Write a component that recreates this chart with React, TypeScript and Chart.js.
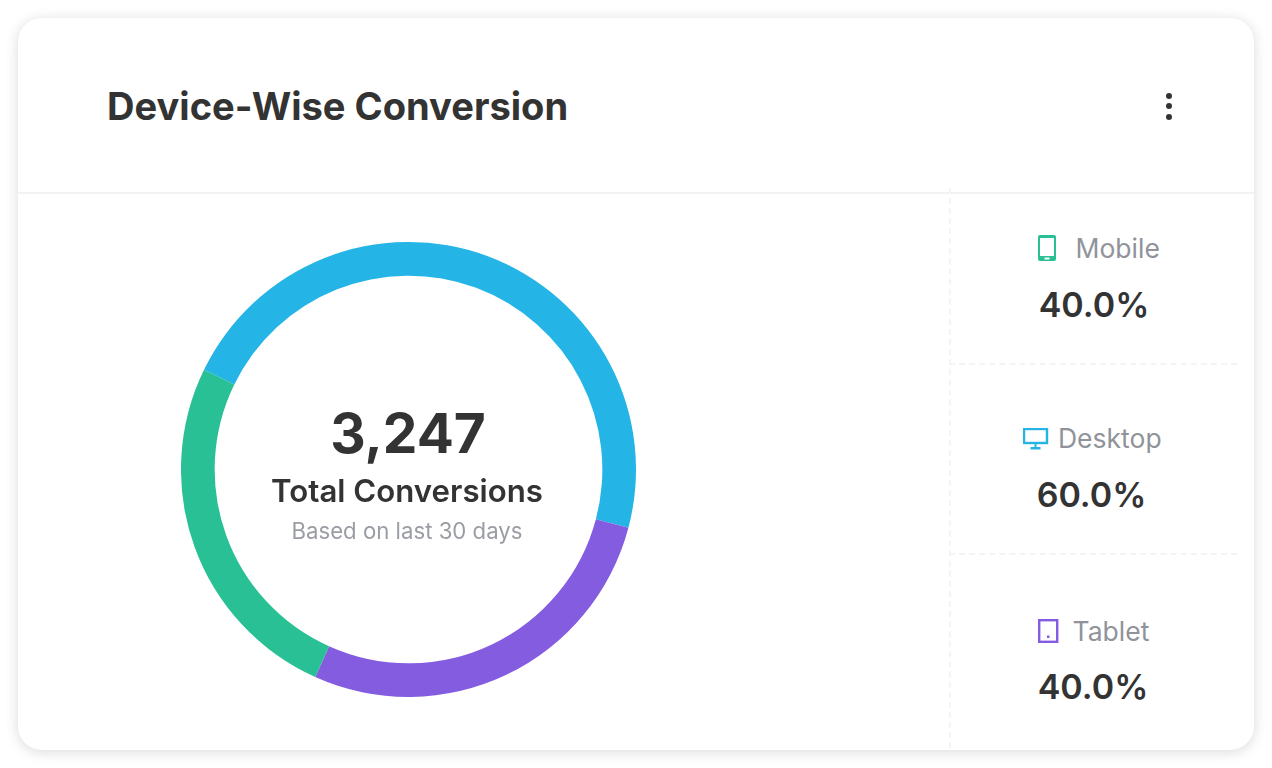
import React, { useEffect, useRef } from "react";
import { Chart, registerables } from "chart.js";

Chart.register(...registerables);

const categories = ["Desktop", "Tablet", "Mobile"];
const sliceValues = [46.9, 27.6, 25.5];
const sliceColors = ["#24B5E6", "#845CE0", "#28C094"];
const legendLabels = ["Mobile", "Desktop", "Tablet"];
const legendValues = ["40.0%", "60.0%", "40.0%"];
const legendColors = ["#28C094", "#24B5E6", "#845CE0"];

const FONT = "Inter, 'Noto Sans', sans-serif";

function Icon({ name, color }: { name: string; color: string }) {
  if (name === "Mobile") {
    return (
      <svg width="20" height="28" viewBox="0 0 20 28" style={{ position: "absolute", left: 0, top: 0 }}>
        <path fillRule="evenodd" fill={color} d="M3 1h14a2 2 0 0 1 2 2v22a2 2 0 0 1-2 2H3a2 2 0 0 1-2-2V3a2 2 0 0 1 2-2zM3 4v18h14V4zM7.500 23.500v2h5v-2z" />
      </svg>
    );
  }
  if (name === "Desktop") {
    return (
      <svg width="26" height="22" viewBox="0 0 26 22" style={{ position: "absolute", left: 0, top: 0 }}>
        <rect x="1" y="1" width="23" height="14" fill="none" stroke={color} strokeWidth="2.400" />
        <rect x="11.500" y="15" width="2" height="4" fill={color} />
        <rect x="7.500" y="19" width="10" height="2.500" fill={color} />
      </svg>
    );
  }
  return (
    <svg width="21" height="24" viewBox="0 0 21 24" style={{ position: "absolute", left: 0, top: 0 }}>
      <rect x="1.200" y="1.200" width="18" height="21.600" fill="none" stroke={color} strokeWidth="2.400" />
      <rect x="9" y="16.500" width="2.500" height="2.500" fill={color} />
    </svg>
  );
}

const legendLayout = [
  { icon: [1037, 234], label: 1075.500, labelCenter: 247.500, value: 1094, valueCenter: 304.500 },
  { icon: [1023, 428], label: 1058, labelCenter: 437.500, value: 1091.500, valueCenter: 495 },
  { icon: [1038, 619], label: 1072.500, labelCenter: 630.500, value: 1093, valueCenter: 687 },
];

export default function App() {
  const ref = useRef<HTMLCanvasElement>(null);
  useEffect(() => {
    if (!ref.current) return;
    const chart = new Chart(ref.current, {
      type: "doughnut",
      data: {
        labels: categories,
        datasets: [{ data: sliceValues, backgroundColor: sliceColors, borderWidth: 0 }],
      },
      options: {
        animation: false,
        responsive: false,
        cutout: "85.2%",
        rotation: -64,
        layout: { padding: 0 },
        plugins: { legend: { display: false }, tooltip: { enabled: false } },
      },
    });
    return () => chart.destroy();
  }, []);

  const abs = (o: React.CSSProperties): React.CSSProperties => ({ position: "absolute", whiteSpace: "nowrap", ...o });

  return (
    <div style={{ position: "fixed", left: 0, top: 0, width: 1272, height: 768, background: "#fff", overflow: "hidden", fontFamily: FONT }}>
      <div
        style={abs({
          left: 18,
          top: 18,
          width: 1236,
          height: 732,
          borderRadius: 24,
          background: "#fff",
          boxShadow: "0 2px 14px rgba(0,0,0,0.15)",
        })}
      />
      <div style={abs({ left: 18, top: 192, width: 1236, height: 2, background: "#F1F2F3" })} />
      <div style={abs({ left: 949, top: 188, height: 560, borderLeft: "2px dashed #F3F4F5" })} />
      <div style={abs({ left: 949, top: 363, width: 288, borderTop: "2px dashed #F3F4F5" })} />
      <div style={abs({ left: 949, top: 553, width: 288, borderTop: "2px dashed #F3F4F5" })} />

      <div style={abs({ left: 107, top: 82, lineHeight: "48px", fontSize: 38.100, fontWeight: 700, color: "#333333" })}>
        Device-Wise Conversion
      </div>
      {[95.700, 106.300, 117].map((y) => (
        <div key={y} style={abs({ left: 1166, top: y - 3, width: 6, height: 6, borderRadius: 3, background: "#333333" })} />
      ))}

      <canvas ref={ref} width={455} height={455} style={{ position: "absolute", left: 181, top: 242, width: 455, height: 455 }} />

      <div style={abs({ left: 208, width: 400, top: 398, lineHeight: "70px", textAlign: "center", fontSize: 55, fontWeight: 700, color: "#333333" })}>
        3,247
      </div>
      <div style={abs({ left: 207, width: 400, top: 470, lineHeight: "42px", textAlign: "center", fontSize: 31.200, fontWeight: 600, color: "#333333" })}>
        Total Conversions
      </div>
      <div style={abs({ left: 207, width: 400, top: 516, lineHeight: "30px", textAlign: "center", fontSize: 22.200, fontWeight: 400, color: "#9A9DA3" })}>
        Based on last 30 days
      </div>

      {legendLabels.map((label, i) => {
        const l = legendLayout[i];
        return (
          <React.Fragment key={label}>
            <div style={abs({ left: l.icon[0], top: l.icon[1], width: 26, height: 28 })}>
              <Icon name={label} color={legendColors[i]} />
            </div>
            <div style={abs({ left: l.label, top: l.labelCenter - 18, lineHeight: "36px", fontSize: 26.500, color: "#90939A" })}>{label}</div>
            <div style={abs({ left: l.value - 100, width: 200, top: l.valueCenter - 24, lineHeight: "48px", textAlign: "center", fontSize: 34, fontWeight: 600, color: "#333333" })}>
              {legendValues[i]}
            </div>
          </React.Fragment>
        );
      })}
    </div>
  );
}
